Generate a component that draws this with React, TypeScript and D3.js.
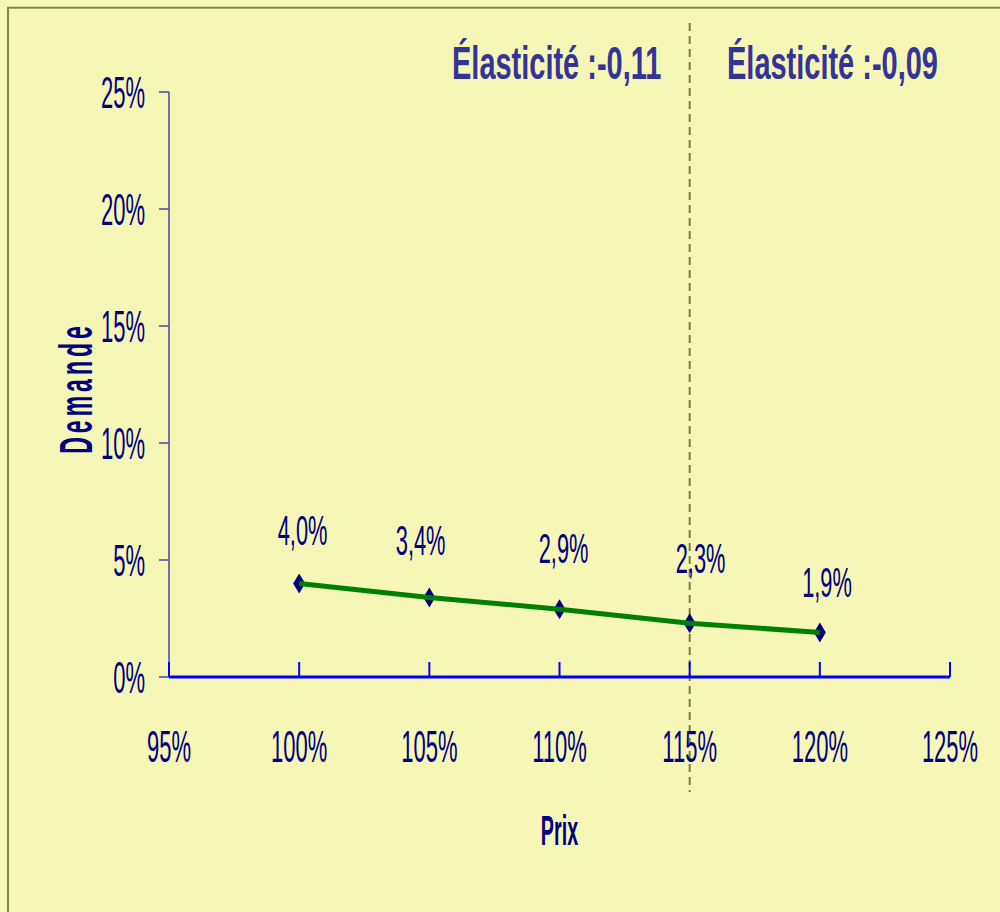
import React from "react";
import * as d3 from "d3";

const prices = [1.0, 1.05, 1.1, 1.15, 1.2];
const demand = [0.04, 0.034, 0.029, 0.023, 0.019];
const xTicks = [0.95, 1.0, 1.05, 1.1, 1.15, 1.2, 1.25];
const yTicks = [0, 0.05, 0.1, 0.15, 0.2, 0.25];
const elasticityLabels = ["Élasticité :-0,11", "Élasticité :-0,09"];
const dividerPrice = 1.15;
const xTitle = "Prix";
const yTitle = "Demande";

// label placement (layout only)
const labelDx = [3.4, -8.7, 4.1, 10.9, 7.2];
const labelDy = [-38.4, -42.4, -46, -50, -35.5];

const W = 1000;
const H = 912;
const BG = "#F6F7B6";
const BORDER = "#7B8A3C";
const NAVY = "#000080";
const FONT = "'Liberation Sans', Arial, sans-serif";

const fr = d3.formatLocale({
  decimal: ",",
  thousands: " ",
  grouping: [3],
  currency: ["", " €"],
});
const fmtTick = fr.format(".0%");
const fmtLabel = fr.format(".1%");

export default function App() {
  const x = d3.scaleLinear().domain([0.95, 1.25]).range([169, 950]);
  const y = d3.scaleLinear().domain([0, 0.25]).range([677, 92]);
  const pts: [number, number][] = prices.map((p, i) => [p, demand[i]]);
  const line = d3
    .line<[number, number]>()
    .x((d) => x(d[0]))
    .y((d) => y(d[1]));
  const diamond = "M0,-10L6,0L0,10L-6,0Z";
  const xd = x(dividerPrice);

  return (
    <svg
      width={W}
      height={H}
      style={{ position: "absolute", left: 0, top: 0, display: "block" }}
      fontFamily={FONT}
    >
      <rect x={0} y={0} width={W} height={H} fill={BG} />
      <rect
        x={8}
        y={7.7}
        width={1200}
        height={1200}
        fill="none"
        stroke={BORDER}
        strokeWidth={2}
      />

      {/* divider */}
      <line
        x1={xd}
        x2={xd}
        y1={23}
        y2={792}
        stroke="#7A7F3A"
        strokeWidth={2}
        strokeDasharray="8,5"
      />

      {/* elasticity annotations */}
      <text
        transform={`translate(452,79) scale(0.63,1)`}
        fontSize={46}
        fontWeight="bold"
        fill="#333399"
      >
        {elasticityLabels[0]}
      </text>
      <text
        transform={`translate(727,79) scale(0.63,1)`}
        fontSize={46}
        fontWeight="bold"
        fill="#333399"
      >
        {elasticityLabels[1]}
      </text>

      {/* y axis */}
      <line x1={169} x2={169} y1={y(0.25)} y2={y(0)} stroke="#4A4A9E" strokeWidth={1.5} />
      {yTicks.map((t) => (
        <g key={"y" + t}>
          <line x1={159} x2={169} y1={y(t)} y2={y(t)} stroke="#4A4A9E" strokeWidth={1.5} />
          <text
            transform={`translate(145,${y(t) + 16}) scale(0.5,1)`}
            textAnchor="end"
            fontSize={44}
            fill={NAVY}
          >
            {fmtTick(t)}
          </text>
        </g>
      ))}

      {/* x axis */}
      <line x1={x(0.95)} x2={x(1.25)} y1={y(0)} y2={y(0)} stroke="#0000FF" strokeWidth={3} />
      {xTicks.map((t) => (
        <g key={"x" + t}>
          <line x1={x(t)} x2={x(t)} y1={y(0)} y2={662} stroke="#0000FF" strokeWidth={2} />
          <text
            transform={`translate(${x(t)},762) scale(0.5,1)`}
            textAnchor="middle"
            fontSize={44}
            fill={NAVY}
          >
            {fmtTick(t)}
          </text>
        </g>
      ))}

      {/* markers */}
      {pts.map((d, i) => (
        <path key={"m" + i} d={diamond} transform={`translate(${x(d[0])},${y(d[1])})`} fill={NAVY} />
      ))}

      {/* line */}
      <path
        d={line(pts) || ""}
        fill="none"
        stroke="#008000"
        strokeWidth={5}
        strokeLinejoin="round"
      />

      {/* data labels */}
      {pts.map((d, i) => (
        <text
          key={"l" + i}
          transform={`translate(${x(d[0]) + labelDx[i]},${y(d[1]) + labelDy[i]}) scale(0.52,1)`}
          textAnchor="middle"
          fontSize={42}
          fill={NAVY}
        >
          {fmtLabel(d[1])}
        </text>
      ))}

      {/* axis titles */}
      <text
        transform={`translate(559.5,845) scale(0.47,1)`}
        textAnchor="middle"
        fontSize={42}
        fontWeight="bold"
        fill={NAVY}
      >
        {xTitle}
      </text>
      <text
        transform={`translate(92,388) rotate(-90) scale(0.5,1)`}
        textAnchor="middle"
        fontSize={46}
        fontWeight="bold"
        letterSpacing={8}
        fill={NAVY}
      >
        {yTitle}
      </text>
    </svg>
  );
}
